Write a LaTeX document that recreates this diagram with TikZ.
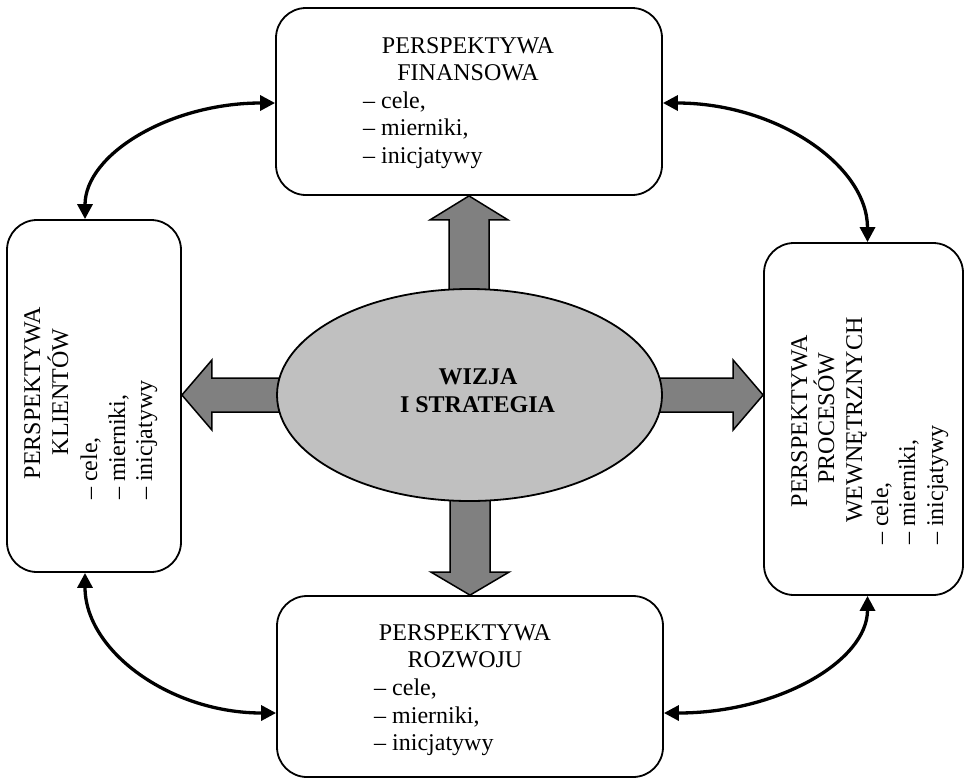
\documentclass[tikz,border=0pt]{standalone}
\usepackage{fontspec}
\setmainfont{Liberation Serif}
\usetikzlibrary{shapes.geometric,arrows.meta,calc}
\definecolor{arrowgray}{RGB}{128,128,128}
\definecolor{ellgray}{RGB}{192,192,192}
\begin{document}
\begin{tikzpicture}[x=1pt,y=-1pt,
  box/.style={draw, line width=1.8pt, rounded corners=30pt, rectangle, inner sep=0pt, fill=white},
  txt/.style={font=\fontsize{24}{27.5}\selectfont, inner sep=0pt},
  btxt/.style={font=\fontsize{24}{27.5}\selectfont\bfseries, inner sep=0pt},
  curvearrow/.style={line width=3.3pt, {Triangle[length=15pt,width=15pt]}-{Triangle[length=15pt,width=15pt]}},
  blockarrow/.style={draw, line width=1.5pt, fill=arrowgray, line join=miter},
  vizstyle/.style={ellipse, draw, line width=1.8pt, fill=ellgray, inner sep=0pt}]
\useasboundingbox (0,0) rectangle (965,780);

% boxes
\node[box, minimum width=386pt, minimum height=187pt] (fin) at (469,101.5) {};
\node[box, minimum width=174pt, minimum height=352pt] (kli) at (94,396) {};
\node[box, minimum width=199pt, minimum height=352pt] (pro) at (863.5,419) {};
\node[box, minimum width=386pt, minimum height=181pt] (roz) at (470,686.5) {};

% centre ellipse (position only, drawn after the block arrows)
\path (469.5,395) coordinate (vizc);

% block arrows
\draw[blockarrow] (fin.south) -- ++(39,24) -- ++(-19,0) -- ++(0,80) -- ++(-40,0) -- ++(0,-80) -- ++(-19,0) -- cycle;
\draw[blockarrow] (roz.north) -- ++(39,-23) -- ++(-19,0) -- ++(0,-80) -- ++(-40,0) -- ++(0,80) -- ++(-19,0) -- cycle;
\draw[blockarrow] (pro.west |- vizc) -- ++(-30,-35) -- ++(0,18) -- ++(-90,0) -- ++(0,34) -- ++(90,0) -- ++(0,18) -- cycle;
\draw[blockarrow] (kli.east |- vizc) -- ++(30,-35) -- ++(0,18) -- ++(90,0) -- ++(0,34) -- ++(-90,0) -- ++(0,18) -- cycle;

\node[vizstyle, minimum width=385pt, minimum height=212pt] (viz) at (vizc) {};
\node[btxt, anchor=base] (viz1) at (478,384) {WIZJA};
\node[btxt, anchor=base] (viz2) at (477.5,412) {I STRATEGIA};

% curved double arrows
\coordinate (k1) at ([xshift=-9pt]kli.north);
\coordinate (f1) at ([yshift=-1.5pt]fin.west);
\coordinate (f2) at ([yshift=-1.5pt]fin.east);
\coordinate (p1) at ([xshift=4pt]pro.north);
\coordinate (k2) at ([xshift=-9pt]kli.south);
\coordinate (r1) at ([yshift=-26.5pt]roz.west);
\coordinate (r2) at ([yshift=-26.5pt]roz.east);
\coordinate (p2) at ([xshift=4pt]pro.south);
\draw[curvearrow] (k1) .. controls +(0,-65) and +(-105,0) .. (f1);
\draw[curvearrow] (f2) .. controls +(113,0) and +(0,-77) .. (p1);
\draw[curvearrow] (k2) .. controls +(0,78) and +(-106,0) .. (r1);
\draw[curvearrow] (r2) .. controls +(114,0) and +(0,65) .. (p2);

% top box text
\node[txt, anchor=base] (f-t1) at (468,53) {PERSPEKTYWA};
\node[txt, anchor=base] (f-t2) at (468,80) {FINANSOWA};
\node[txt, anchor=base west] (f-l1) at (363,108) {– cele,};
\node[txt, anchor=base west] (f-l2) at (363,135) {– mierniki,};
\node[txt, anchor=base west] (f-l3) at (363,163) {– inicjatywy};

% bottom box text
\node[txt, anchor=base] (r-t1) at (465,640) {PERSPEKTYWA};
\node[txt, anchor=base] (r-t2) at (465,667) {ROZWOJU};
\node[txt, anchor=base west] (r-l1) at (374,695) {– cele,};
\node[txt, anchor=base west] (r-l2) at (374,723) {– mierniki,};
\node[txt, anchor=base west] (r-l3) at (374,750) {– inicjatywy};

% left box text (rotated)
\node[txt, rotate=90, anchor=base] (k-t1) at (40,393) {PERSPEKTYWA};
\node[txt, rotate=90, anchor=base] (k-t2) at (68,392) {KLIENTÓW};
\node[txt, rotate=90, anchor=base west] (k-l1) at (97,500) {– cele,};
\node[txt, rotate=90, anchor=base west] (k-l2) at (125,500) {– mierniki,};
\node[txt, rotate=90, anchor=base west] (k-l3) at (152,500) {– inicjatywy};

% right box text (rotated)
\node[txt, rotate=90, anchor=base] (p-t1) at (807,421) {PERSPEKTYWA};
\node[txt, rotate=90, anchor=base] (p-t2) at (834,418) {PROCESÓW};
\node[txt, rotate=90, anchor=base] (p-t3) at (862,420) {WEWNĘTRZNYCH};
\node[txt, rotate=90, anchor=base west] (p-l1) at (888,545) {– cele,};
\node[txt, rotate=90, anchor=base west] (p-l2) at (915,545) {– mierniki,};
\node[txt, rotate=90, anchor=base west] (p-l3) at (943,545) {– inicjatywy};
\end{tikzpicture}
\end{document}
